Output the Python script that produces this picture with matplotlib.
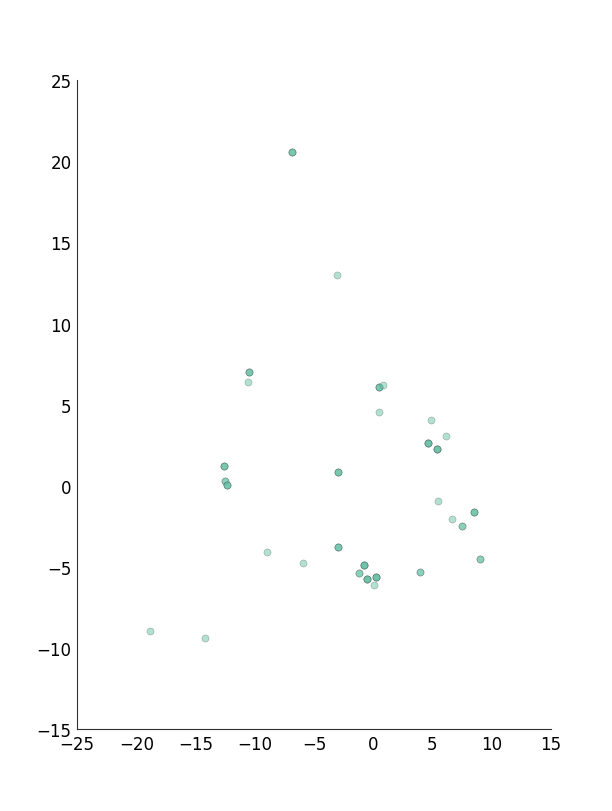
import numpy as np
import matplotlib
matplotlib.use("Agg")
import matplotlib.pyplot as plt

# point positions; "hits" = how many points sit on top of each other
x_vals = [-6.86, -3.06, -10.48, -10.57, 0.46, 0.82, 0.46, 4.87, 6.11, 4.62, 5.35,
          -2.97, -12.62, -12.54, -12.37, 5.44, 8.48, 6.65, 7.49, -2.97, 9.00,
          -0.81, -1.20, 3.92, -0.53, 0.23, 0.04, -8.99, -5.95, -18.87, -14.22]
y_vals = [20.56, 12.98, 7.00, 6.38, 6.10, 6.20, 4.55, 4.04, 3.08, 2.63, 2.27,
          0.84, 1.23, 0.30, 0.06, -0.95, -1.61, -2.04, -2.47, -3.76, -4.50,
          -4.87, -5.37, -5.31, -5.74, -5.61, -6.11, -4.07, -4.75, -8.94, -9.37]
hits = [3, 1, 3, 1, 3, 1, 1, 1, 1, 4, 4,
        3, 3, 2, 3, 1, 3, 1, 2, 3, 2,
        4, 2, 2, 4, 4, 1, 1, 1, 1, 1]

xs = np.repeat(x_vals, hits)
ys = np.repeat(y_vals, hits)

fig = plt.figure(figsize=(6.12, 8.12), dpi=100)
ax = fig.add_axes([0.126, 0.1005, 0.774, 0.7997])

ax.scatter(xs, ys, s=26, c="#66c2a5", alpha=0.5,
           edgecolors="#4f5f5a", linewidths=0.4)

ax.set_xlim(-25, 15)
ax.set_ylim(-15, 25)
ax.set_xticks(np.arange(-25, 16, 5))
ax.set_yticks(np.arange(-15, 26, 5))

ax.spines["top"].set_visible(False)
ax.spines["right"].set_visible(False)
for s in ("left", "bottom"):
    ax.spines[s].set_linewidth(0.8)
    ax.spines[s].set_color("#333333")
ax.tick_params(length=0, labelsize=12, pad=4)

fig.savefig("out.png", dpi=100)
